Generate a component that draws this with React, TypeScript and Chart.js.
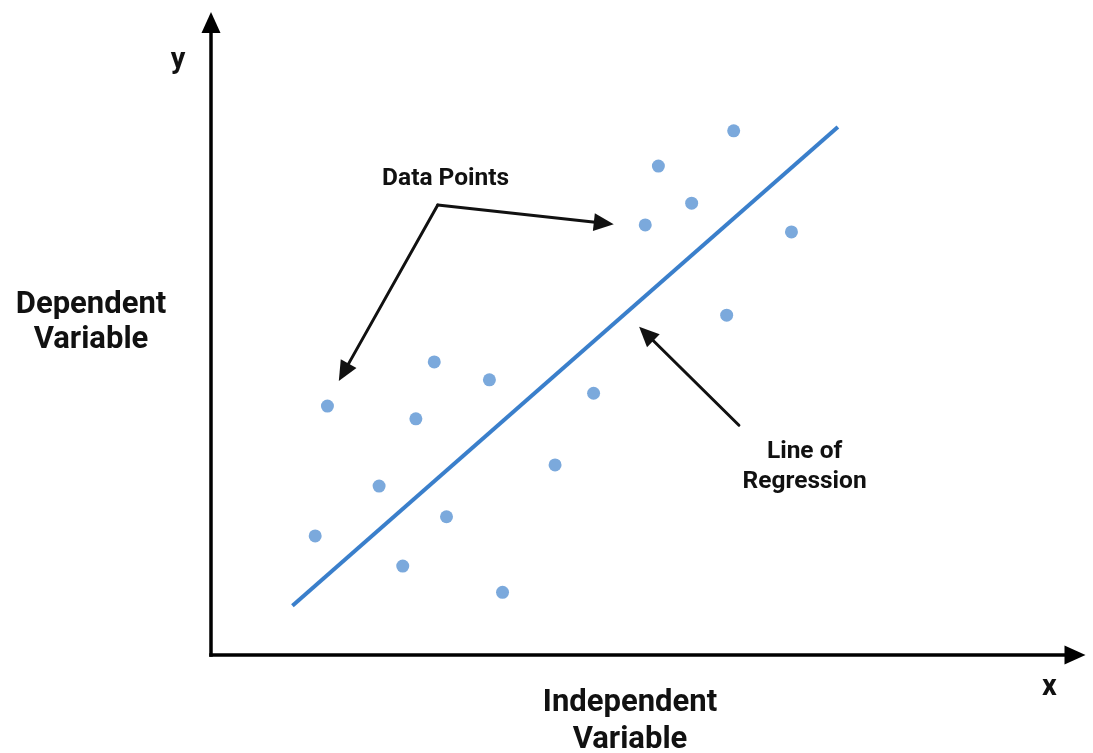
import React, { useEffect, useRef } from "react";
import { Chart, registerables } from "chart.js";

Chart.register(...registerables);

// Observations (independent x, dependent y), in arbitrary units 0..100
const pointX = [11.9, 13.3, 19.2, 21.9, 23.4, 25.5, 26.9, 31.8, 33.3, 39.3, 43.7, 49.6, 51.1, 54.9, 58.9, 59.7, 66.3];
const pointY = [18.6, 38.9, 26.4, 13.9, 36.9, 45.8, 21.6, 43.0, 9.8, 29.7, 40.9, 67.2, 76.4, 70.6, 53.1, 81.9, 66.1];

// Regression line end points
const lineX = [9.3, 71.6];
const lineY = [7.7, 82.5];

// Annotation labels (text, anchor in data units)
const labelTexts = ["Data Points", "Line of", "Regression"];
const labelX = [26.8, 67.8, 67.8];
const labelY = [74.4, 31.7, 27.0];

// Annotation arrows: [fromX, fromY, toX, toY]
const arrowFromX = [25.9, 25.9, 60.3];
const arrowFromY = [70.3, 70.3, 35.9];
const arrowToX = [46.0, 14.6, 48.9];
const arrowToY = [67.3, 42.8, 51.3];

export default function App() {
  const ref = useRef<HTMLCanvasElement>(null);

  useEffect(() => {
    if (!ref.current) return;
    const font = "Roboto, 'Noto Sans', sans-serif";

    const head = (ctx: CanvasRenderingContext2D, x1: number, y1: number, x2: number, y2: number, len: number, half: number) => {
      const a = Math.atan2(y2 - y1, x2 - x1);
      ctx.beginPath();
      ctx.moveTo(x2, y2);
      ctx.lineTo(x2 - len * Math.cos(a) + half * Math.sin(a), y2 - len * Math.sin(a) - half * Math.cos(a));
      ctx.lineTo(x2 - len * Math.cos(a) - half * Math.sin(a), y2 - len * Math.sin(a) + half * Math.cos(a));
      ctx.closePath();
      ctx.fill();
    };

    const decor = {
      id: "decor",
      beforeDatasetsDraw(chart: any) {
        const { ctx, chartArea } = chart;
        const { left, right, top, bottom } = chartArea;
        ctx.save();
        ctx.strokeStyle = "#000";
        ctx.fillStyle = "#000";
        ctx.lineWidth = 3.5;
        // y axis
        ctx.beginPath();
        ctx.moveTo(left, bottom + 1.75);
        ctx.lineTo(left, top + 14);
        ctx.stroke();
        head(ctx, left, bottom, left, top - 3, 21, 9.5);
        // x axis
        ctx.beginPath();
        ctx.moveTo(left - 1.75, bottom);
        ctx.lineTo(right - 16, bottom);
        ctx.stroke();
        head(ctx, left, bottom, right - 1, bottom, 21, 9.5);
        ctx.restore();
      },
      afterDatasetsDraw(chart: any) {
        const { ctx, chartArea, scales } = chart;
        const { left, right, top, bottom } = chartArea;
        const sx = scales.x;
        const sy = scales.y;
        ctx.save();
        ctx.fillStyle = "#111";
        ctx.strokeStyle = "#111";
        ctx.textAlign = "center";
        ctx.textBaseline = "middle";
        // axis letters
        ctx.font = `bold 29px ${font}`;
        ctx.fillText("y", left - 33, top + 46);
        ctx.fillText("x", right - 37, bottom + 33);
        // axis titles
        ctx.font = `bold 31px ${font}`;
        ctx.fillText("Dependent", left - 120, 305);
        ctx.fillText("Variable", left - 120, 340);
        ctx.fillText("Independent", 630, bottom + 48);
        ctx.fillText("Variable", 630, bottom + 85);
        // annotation labels
        ctx.font = `bold 24.5px ${font}`;
        labelTexts.forEach((t, i) => {
          ctx.fillText(t, sx.getPixelForValue(labelX[i]), sy.getPixelForValue(labelY[i]));
        });
        // annotation arrows
        ctx.lineWidth = 3;
        ctx.lineCap = "round";
        ctx.lineJoin = "round";
        arrowFromX.forEach((fx, i) => {
          const x1 = sx.getPixelForValue(fx);
          const y1 = sy.getPixelForValue(arrowFromY[i]);
          const x2 = sx.getPixelForValue(arrowToX[i]);
          const y2 = sy.getPixelForValue(arrowToY[i]);
          const a = Math.atan2(y2 - y1, x2 - x1);
          ctx.beginPath();
          ctx.moveTo(x1, y1);
          ctx.lineTo(x2 - 14 * Math.cos(a), y2 - 14 * Math.sin(a));
          ctx.stroke();
          head(ctx, x1, y1, x2, y2, 20, 9);
        });
        ctx.restore();
      },
    };

    const chart = new Chart(ref.current, {
      type: "scatter",
      data: {
        datasets: [
          {
            label: "Data Points",
            data: pointX.map((x, i) => ({ x, y: pointY[i] })),
            backgroundColor: "#7ba9dc",
            borderColor: "#7ba9dc",
            pointRadius: 6.5,
            borderWidth: 0,
          },
          {
            label: "Line of Regression",
            type: "line",
            data: lineX.map((x, i) => ({ x, y: lineY[i] })),
            borderColor: "#3a7fcb",
            borderWidth: 4,
            pointRadius: 0,
            fill: false,
          } as any,
        ],
      },
      options: {
        animation: false,
        responsive: false,
        layout: { padding: { left: 211, right: 1, top: 15, bottom: 98 } },
        plugins: { legend: { display: false }, tooltip: { enabled: false }, title: { display: false } },
        scales: {
          x: { type: "linear", min: 0, max: 100, display: false },
          y: { type: "linear", min: 0, max: 100, display: false },
        },
      },
      plugins: [decor],
    });
    return () => chart.destroy();
  }, []);

  return (
    <div style={{ position: "fixed", left: 0, top: 0, width: 1093, height: 753, background: "#fff" }}>
      <canvas ref={ref} width={1093} height={753} style={{ width: 1093, height: 753 }} />
    </div>
  );
}
